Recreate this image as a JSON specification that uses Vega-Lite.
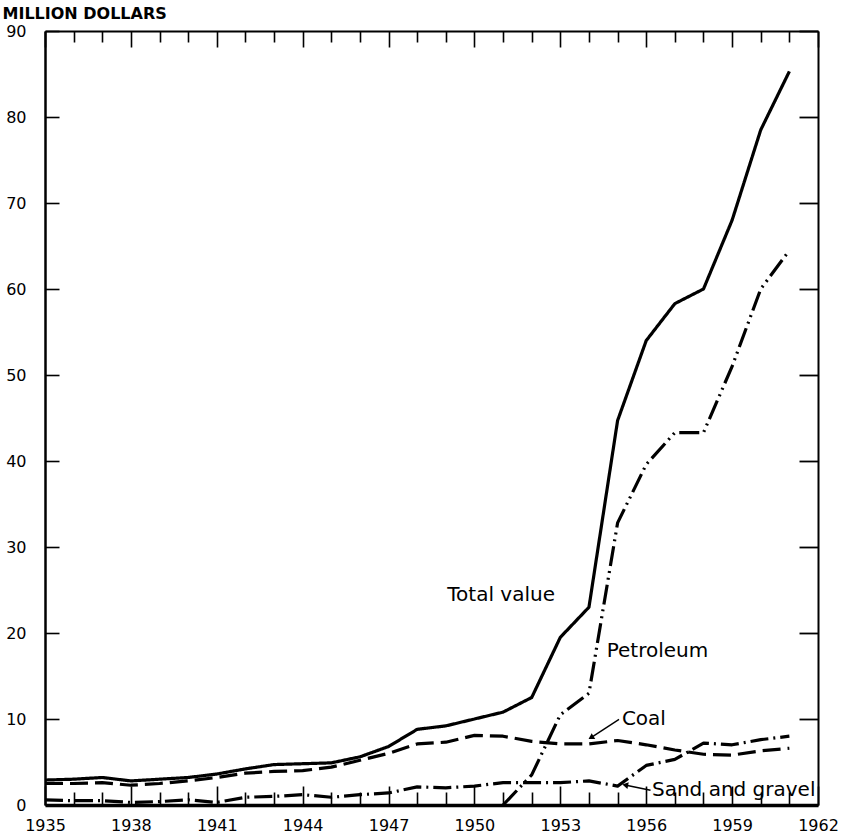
{
  "$schema": "https://vega.github.io/schema/vega-lite/v6.json",
  "width": 773,
  "height": 774,
  "autosize": {"type": "none"},
  "padding": {"left": 45, "top": 31, "right": 33, "bottom": 29},
  "background": "white",
  "config": {
    "view": {"stroke": null},
    "font": "DejaVu Sans",
    "axis": {"grid": false, "domainColor": "black", "tickColor": "black", "labelColor": "black", "titleColor": "black"}
  },
  "datasets": {
    "series": [
      {"year": 1935, "series": "Total value", "value": 2.9},
      {"year": 1936, "series": "Total value", "value": 3.0},
      {"year": 1937, "series": "Total value", "value": 3.2},
      {"year": 1938, "series": "Total value", "value": 2.8},
      {"year": 1939, "series": "Total value", "value": 3.0},
      {"year": 1940, "series": "Total value", "value": 3.2},
      {"year": 1941, "series": "Total value", "value": 3.6},
      {"year": 1942, "series": "Total value", "value": 4.2},
      {"year": 1943, "series": "Total value", "value": 4.7},
      {"year": 1944, "series": "Total value", "value": 4.8},
      {"year": 1945, "series": "Total value", "value": 4.9},
      {"year": 1946, "series": "Total value", "value": 5.6},
      {"year": 1947, "series": "Total value", "value": 6.8},
      {"year": 1948, "series": "Total value", "value": 8.8},
      {"year": 1949, "series": "Total value", "value": 9.2},
      {"year": 1950, "series": "Total value", "value": 10.0},
      {"year": 1951, "series": "Total value", "value": 10.8},
      {"year": 1952, "series": "Total value", "value": 12.5},
      {"year": 1953, "series": "Total value", "value": 19.5},
      {"year": 1954, "series": "Total value", "value": 23.0},
      {"year": 1955, "series": "Total value", "value": 44.7},
      {"year": 1956, "series": "Total value", "value": 54.0},
      {"year": 1957, "series": "Total value", "value": 58.3},
      {"year": 1958, "series": "Total value", "value": 60.0},
      {"year": 1959, "series": "Total value", "value": 68.0},
      {"year": 1960, "series": "Total value", "value": 78.5},
      {"year": 1961, "series": "Total value", "value": 85.3},
      {"year": 1951, "series": "Petroleum", "value": 0.0},
      {"year": 1952, "series": "Petroleum", "value": 3.5},
      {"year": 1953, "series": "Petroleum", "value": 10.5},
      {"year": 1954, "series": "Petroleum", "value": 13.0},
      {"year": 1955, "series": "Petroleum", "value": 32.8},
      {"year": 1956, "series": "Petroleum", "value": 39.6},
      {"year": 1957, "series": "Petroleum", "value": 43.3},
      {"year": 1958, "series": "Petroleum", "value": 43.3},
      {"year": 1959, "series": "Petroleum", "value": 51.0},
      {"year": 1960, "series": "Petroleum", "value": 60.0},
      {"year": 1961, "series": "Petroleum", "value": 64.5},
      {"year": 1935, "series": "Coal", "value": 2.5},
      {"year": 1936, "series": "Coal", "value": 2.5},
      {"year": 1937, "series": "Coal", "value": 2.6},
      {"year": 1938, "series": "Coal", "value": 2.3},
      {"year": 1939, "series": "Coal", "value": 2.5},
      {"year": 1940, "series": "Coal", "value": 2.8},
      {"year": 1941, "series": "Coal", "value": 3.2},
      {"year": 1942, "series": "Coal", "value": 3.7},
      {"year": 1943, "series": "Coal", "value": 3.9},
      {"year": 1944, "series": "Coal", "value": 4.0},
      {"year": 1945, "series": "Coal", "value": 4.4},
      {"year": 1946, "series": "Coal", "value": 5.2},
      {"year": 1947, "series": "Coal", "value": 6.0},
      {"year": 1948, "series": "Coal", "value": 7.1},
      {"year": 1949, "series": "Coal", "value": 7.3},
      {"year": 1950, "series": "Coal", "value": 8.1},
      {"year": 1951, "series": "Coal", "value": 8.0},
      {"year": 1952, "series": "Coal", "value": 7.4},
      {"year": 1953, "series": "Coal", "value": 7.1},
      {"year": 1954, "series": "Coal", "value": 7.1},
      {"year": 1955, "series": "Coal", "value": 7.5},
      {"year": 1956, "series": "Coal", "value": 7.0},
      {"year": 1957, "series": "Coal", "value": 6.4},
      {"year": 1958, "series": "Coal", "value": 5.9},
      {"year": 1959, "series": "Coal", "value": 5.8},
      {"year": 1960, "series": "Coal", "value": 6.3},
      {"year": 1961, "series": "Coal", "value": 6.6},
      {"year": 1935, "series": "Sand and gravel", "value": 0.6},
      {"year": 1936, "series": "Sand and gravel", "value": 0.5},
      {"year": 1937, "series": "Sand and gravel", "value": 0.5},
      {"year": 1938, "series": "Sand and gravel", "value": 0.3},
      {"year": 1939, "series": "Sand and gravel", "value": 0.4},
      {"year": 1940, "series": "Sand and gravel", "value": 0.6},
      {"year": 1941, "series": "Sand and gravel", "value": 0.3},
      {"year": 1942, "series": "Sand and gravel", "value": 0.9},
      {"year": 1943, "series": "Sand and gravel", "value": 1.0},
      {"year": 1944, "series": "Sand and gravel", "value": 1.2},
      {"year": 1945, "series": "Sand and gravel", "value": 0.9},
      {"year": 1946, "series": "Sand and gravel", "value": 1.2},
      {"year": 1947, "series": "Sand and gravel", "value": 1.4},
      {"year": 1948, "series": "Sand and gravel", "value": 2.1},
      {"year": 1949, "series": "Sand and gravel", "value": 2.0},
      {"year": 1950, "series": "Sand and gravel", "value": 2.2},
      {"year": 1951, "series": "Sand and gravel", "value": 2.6},
      {"year": 1952, "series": "Sand and gravel", "value": 2.6},
      {"year": 1953, "series": "Sand and gravel", "value": 2.6},
      {"year": 1954, "series": "Sand and gravel", "value": 2.8},
      {"year": 1955, "series": "Sand and gravel", "value": 2.2},
      {"year": 1956, "series": "Sand and gravel", "value": 4.6},
      {"year": 1957, "series": "Sand and gravel", "value": 5.3},
      {"year": 1958, "series": "Sand and gravel", "value": 7.2},
      {"year": 1959, "series": "Sand and gravel", "value": 7.0},
      {"year": 1960, "series": "Sand and gravel", "value": 7.6},
      {"year": 1961, "series": "Sand and gravel", "value": 8.0}
    ],
    "labels": [
      {"label": "Total value", "year": 1949.05, "value": 24.4},
      {"label": "Petroleum", "year": 1954.62, "value": 17.9},
      {"label": "Coal", "year": 1955.15, "value": 10.0},
      {"label": "Sand and gravel", "year": 1956.2, "value": 1.75}
    ],
    "arrows": [
      {"series": "Coal", "year": 1955.05, "value": 9.95, "tipYear": 1954.1, "tipValue": 7.9},
      {"series": "Sand and gravel", "year": 1956.15, "value": 1.72, "tipYear": 1955.3, "tipValue": 2.3}
    ]
  },
  "layer": [
    {
      "data": {"name": "series"},
      "mark": {"type": "line", "strokeWidth": 3.2, "strokeCap": "butt", "strokeJoin": "round", "color": "black"},
      "encoding": {
        "x": {
          "field": "year", "type": "quantitative",
          "scale": {"domain": [1935, 1962], "nice": false, "zero": false},
          "axis": {
            "orient": "bottom",
            "title": null,
            "values": [1935,1936,1937,1938,1939,1940,1941,1942,1943,1944,1945,1946,1947,1948,1949,1950,1951,1952,1953,1954,1955,1956,1957,1958,1959,1960,1961,1962],
            "format": "d",
            "labelExpr": "(datum.value - 1935) % 3 === 0 ? datum.label : ''",
            "tickSize": {"condition": {"test": "(datum.value - 1935) % 3 === 0", "value": -19}, "value": -13},
            "tickWidth": 1.6,
            "labelPadding": 31,
            "labelFontSize": 16,
            "labelFont": "DejaVu Sans",
            "labelFlush": false,
            "labelOverlap": false,
            "domainWidth": 3.5
          }
        },
        "y": {
          "field": "value", "type": "quantitative",
          "scale": {"domain": [0, 90], "nice": false},
          "axis": {
            "orient": "left",
            "values": [0, 10, 20, 30, 40, 50, 60, 70, 80, 90],
            "tickSize": -14,
            "tickWidth": 1.6,
            "labelPadding": 33,
            "labelFontSize": 16,
            "labelFlush": false,
            "domainWidth": 2.5,
            "title": "MILLION DOLLARS",
            "titleAngle": 0,
            "titleAlign": "left",
            "titleBaseline": "alphabetic",
            "titleX": -43,
            "titleY": -13,
            "titleFontSize": 16,
            "titleFontWeight": "bold"
          }
        },
        "detail": {"field": "series"},
        "strokeDash": {
          "field": "series", "type": "nominal", "legend": null,
          "scale": {
            "domain": ["Total value", "Petroleum", "Coal", "Sand and gravel"],
            "range": [[1, 0], [20, 5, 2, 5, 2, 5], [18, 7], [18, 5, 2, 5]]
          }
        }
      }
    },
    {
      "data": {"name": "labels"},
      "mark": {"type": "text", "align": "left", "baseline": "middle", "fontSize": 20, "font": "DejaVu Sans", "color": "black"},
      "encoding": {
        "x": {
          "field": "year", "type": "quantitative",
          "scale": {"domain": [1935, 1962], "nice": false, "zero": false},
          "axis": {
            "orient": "top",
            "title": null,
            "values": [1935,1936,1937,1938,1939,1940,1941,1942,1943,1944,1945,1946,1947,1948,1949,1950,1951,1952,1953,1954,1955,1956,1957,1958,1959,1960,1961,1962],
            "labels": false,
            "tickSize": {"condition": {"test": "(datum.value - 1935) % 3 === 0", "value": -16}, "value": -11},
            "tickWidth": 1.6,
            "domainWidth": 2
          }
        },
        "y": {
          "field": "value", "type": "quantitative",
          "scale": {"domain": [0, 90], "nice": false},
          "axis": {
            "orient": "right",
            "title": null,
            "values": [0, 10, 20, 30, 40, 50, 60, 70, 80, 90],
            "labels": false,
            "tickSize": -19,
            "tickWidth": 1.8,
            "domainWidth": 2
          }
        },
        "text": {"field": "label"}
      }
    },
    {
      "data": {"name": "arrows"},
      "mark": {"type": "rule", "strokeWidth": 1.4, "color": "black"},
      "encoding": {
        "x": {"field": "year", "type": "quantitative", "axis": null},
        "y": {"field": "value", "type": "quantitative", "axis": null},
        "x2": {"field": "tipYear"},
        "y2": {"field": "tipValue"}
      }
    },
    {
      "data": {"name": "arrows"},
      "transform": [{"filter": "datum.series === 'Coal'"}],
      "mark": {"type": "point", "shape": "triangle", "filled": true, "size": 45, "angle": 238, "color": "black", "opacity": 1},
      "encoding": {
        "x": {"field": "tipYear", "type": "quantitative", "axis": null},
        "y": {"field": "tipValue", "type": "quantitative", "axis": null}
      }
    },
    {
      "data": {"name": "arrows"},
      "transform": [{"filter": "datum.series === 'Sand and gravel'"}],
      "mark": {"type": "point", "shape": "triangle", "filled": true, "size": 45, "angle": 281, "color": "black", "opacity": 1},
      "encoding": {
        "x": {"field": "tipYear", "type": "quantitative", "axis": null},
        "y": {"field": "tipValue", "type": "quantitative", "axis": null}
      }
    }
  ],
  "resolve": {"axis": {"x": "independent", "y": "independent"}}
}
